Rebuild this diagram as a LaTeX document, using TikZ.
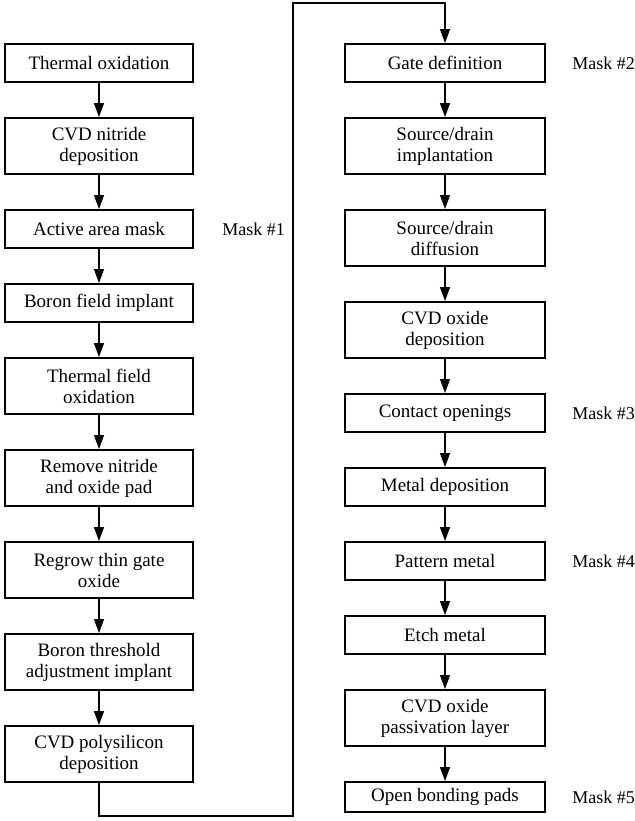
\documentclass[tikz,border=0pt]{standalone}
\usepackage{fontspec}
\setmainfont{Liberation Serif}
\usepackage{tikz}
\usetikzlibrary{positioning,arrows.meta}

\begin{document}
\begin{tikzpicture}[x=0.5pt,y=-0.5pt,node distance=17pt,
	stepbox/.style={draw,line width=1pt,minimum width=94pt,minimum height=19pt,inner sep=1pt,align=center,font=\fontsize{9.5}{10.5}\selectfont},
	tallbox/.style={stepbox,minimum height=28pt},
	widebox/.style={minimum width=100pt},
	masklbl/.style={font=\fontsize{9}{10}\selectfont,inner sep=0pt},
	flow/.style={line width=0.6pt,-{Triangle[length=7pt,width=5pt]}}]
	\useasboundingbox (0,0) rectangle (634,821);
	% left column
	\node[stepbox,anchor=north] (therm) at (99,43) {Thermal oxidation};
	\node[tallbox,below=of therm] (nitr) {CVD nitride\\deposition};
	\node[stepbox,below=of nitr] (actv) {Active area mask};
	\node[stepbox,below=of actv] (bfield) {Boron field implant};
	\node[tallbox,below=of bfield] (fox) {Thermal field\\oxidation};
	\node[tallbox,below=of fox] (strip) {Remove nitride\\and oxide pad};
	\node[tallbox,below=of strip] (regrow) {Regrow thin gate\\oxide};
	\node[tallbox,below=of regrow] (vtadj) {Boron threshold\\adjustment implant};
	\node[tallbox,below=of vtadj] (poly) {CVD polysilicon\\deposition};
	% right column
	\node[stepbox,widebox,anchor=north] (gate) at (445,43) {Gate definition};
	\node[tallbox,widebox,below=of gate] (sdimp) {Source/drain\\implantation};
	\node[tallbox,widebox,below=of sdimp] (sddif) {Source/drain\\diffusion};
	\node[tallbox,widebox,below=of sddif] (cvdox) {CVD oxide\\deposition};
	\node[stepbox,widebox,below=of cvdox] (cont) {Contact openings};
	\node[stepbox,widebox,below=of cont] (metdep) {Metal deposition};
	\node[stepbox,widebox,below=of metdep] (patmet) {Pattern metal};
	\node[stepbox,widebox,below=of patmet] (etch) {Etch metal};
	\node[tallbox,widebox,below=of etch] (passiv) {CVD oxide\\passivation layer};
	\node[stepbox,widebox,minimum height=15pt,below=of passiv] (pads) {Open bonding pads};
	% masks
	\node[masklbl,right=14pt of actv] (m1) {Mask \#1};
	\node[masklbl,right=13pt of gate] (m2) {Mask \#2};
	\node[masklbl,right=13pt of cont] (m3) {Mask \#3};
	\node[masklbl,right=13pt of patmet] (m4) {Mask \#4};
	\node[masklbl,right=13pt of pads] (m5) {Mask \#5};
	% arrows
	\foreach \a/\b in {therm/nitr,nitr/actv,actv/bfield,bfield/fox,fox/strip,strip/regrow,regrow/vtadj,vtadj/poly,
		gate/sdimp,sdimp/sddif,sddif/cvdox,cvdox/cont,cont/metdep,metdep/patmet,patmet/etch,etch/passiv,passiv/pads}
		\draw[flow] (\a.south) -- (\b.north);
	\coordinate (lowturn) at (293,816);
	\coordinate (topturn) at (293,3);
	\draw[flow] (poly.south) |- (lowturn) -- (topturn) -| (gate.north);
\end{tikzpicture}
\end{document}
